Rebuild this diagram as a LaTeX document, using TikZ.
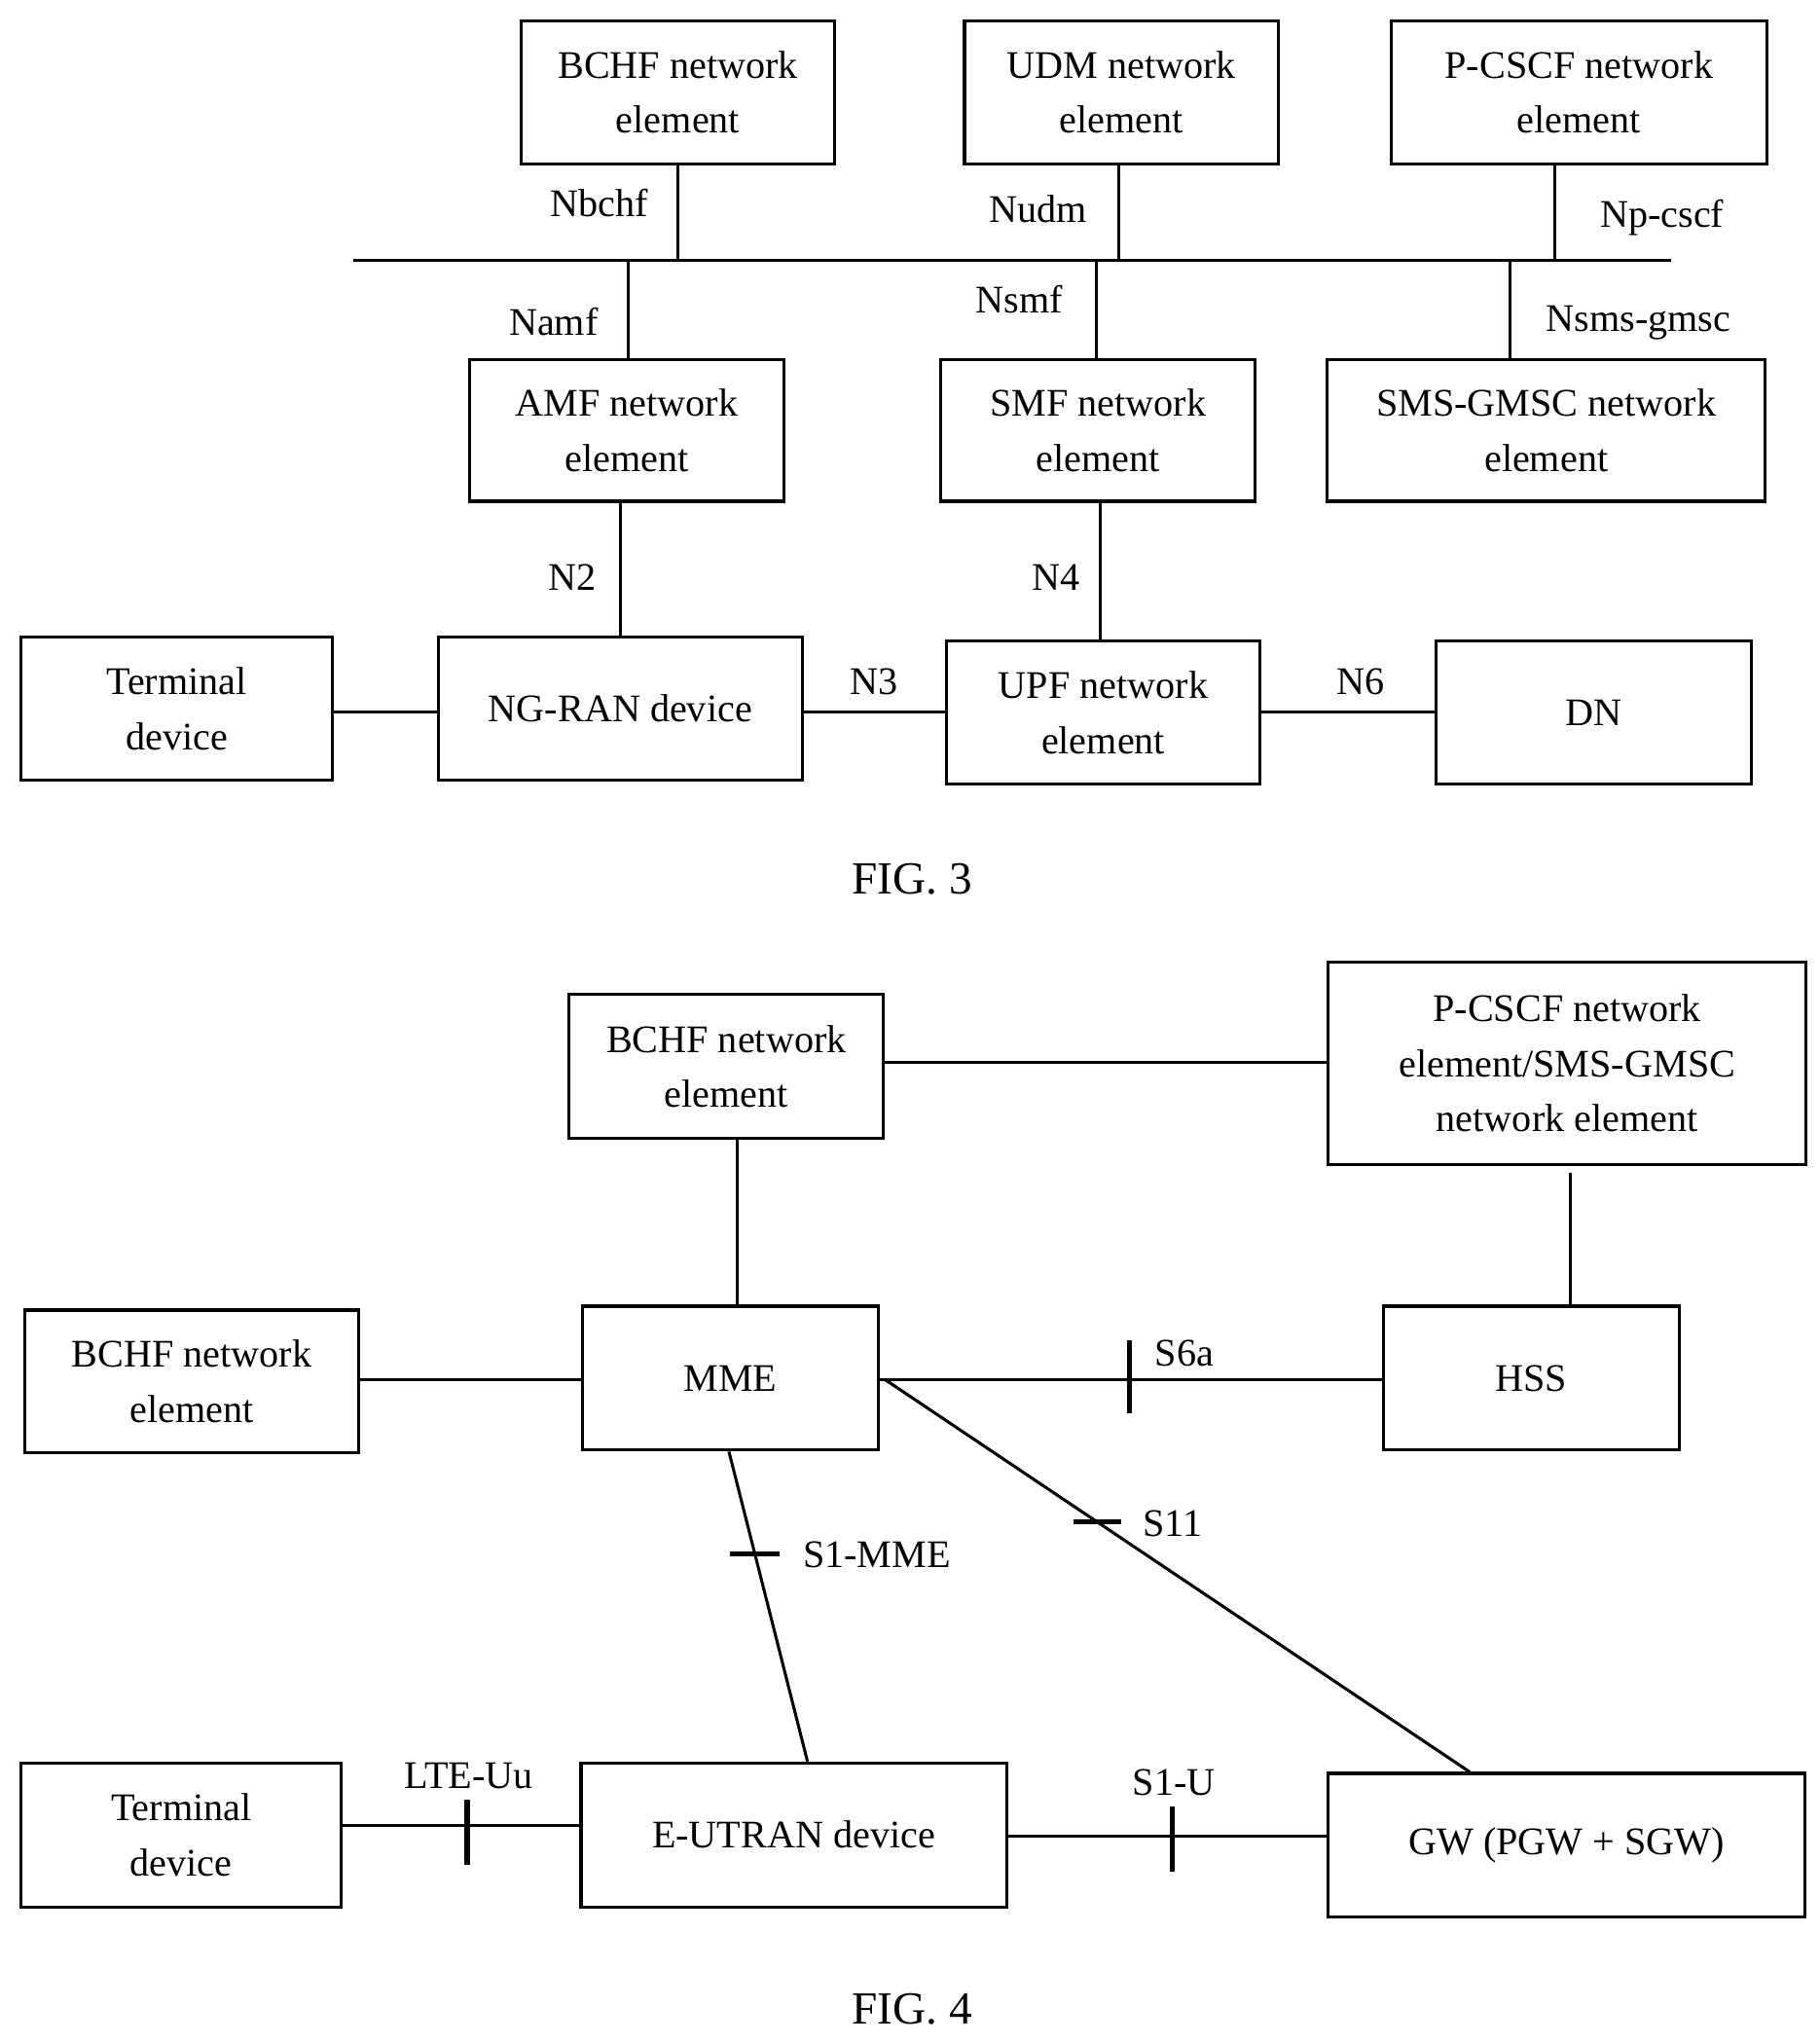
\documentclass[tikz,border=0pt]{standalone}
\usepackage{fontspec}
\setmainfont{Liberation Serif}
\begin{document}
\begin{tikzpicture}[x=0.02cm,y=-0.02cm,
  box/.style={draw,line width=1.3pt,align=center,inner sep=0pt},
  ln/.style={line width=1.3pt},
  lb/.style={inner sep=0pt},
  tk/.style={draw=none,inner sep=0pt,minimum size=0pt},
  every node/.style={font=\fontsize{17}{24}\selectfont}]
\useasboundingbox (0,0) rectangle (1390,1561);
\newcommand\bx[6]{\node[box,minimum width={(#4-#2)*0.02cm},minimum height={(#5-#3)*0.02cm}] (#1) at ({(#2+#4)/2},{(#3+#5)/2}) {#6};}
% FIG 3
\bx{bchf}{398}{16}{638}{125}{BCHF network\\element}
\bx{udm}{737}{16}{977}{125}{UDM network\\element}
\bx{pcscf}{1063}{16}{1350}{125}{P-CSCF network\\element}
\bx{amf}{359}{275}{599}{383}{AMF network\\element}
\bx{smf}{719}{275}{959}{383}{SMF network\\element}
\bx{sms}{1014}{275}{1349}{383}{SMS-GMSC network\\element}
\bx{term}{16}{487}{254}{596}{Terminal\\device}
\bx{ngran}{335}{487}{613}{596}{NG-RAN device}
\bx{upf}{723}{490}{963}{599}{UPF network\\element}
\bx{dn}{1097}{490}{1338}{599}{DN}
\coordinate (bL) at (270,199); \coordinate (bR) at (1277,199);
\draw[ln] (bL) -- (bR);
\draw[ln] (bchf.south -| 518,0) -- (bL -| 518,0);
\draw[ln] (udm.south -| 855,0) -- (bL -| 855,0);
\draw[ln] (pcscf.south -| 1188,0) -- (bL -| 1188,0);
\draw[ln] (amf.north -| 480,0) -- (bL -| 480,0);
\draw[ln] (smf.north -| 838,0) -- (bL -| 838,0);
\draw[ln] (sms.north -| 1154,0) -- (bL -| 1154,0);
\draw[ln] (amf.south -| 474,0) -- (ngran.north -| 474,0);
\draw[ln] (smf.south -| 841,0) -- (upf.north -| 841,0);
\draw[ln] (term.east |- 0,544) -- (ngran.west |- 0,544);
\draw[ln] (ngran.east |- 0,544) -- (upf.west |- 0,544);
\draw[ln] (upf.east |- 0,544) -- (dn.west |- 0,544);
\node[lb] (l1) at (458,155) {Nbchf};
\node[lb] (l2) at (793,160) {Nudm};
\node[lb] (l3) at (1270,166) {Np-cscf};
\node[lb] (l4) at (423,246) {Namf};
\node[lb] (l5) at (779,229) {Nsmf};
\node[lb] (l6) at (1252,247) {Nsms-gmsc};
\node[lb] (l7) at (437,441) {N2};
\node[lb] (l8) at (807,441) {N4};
\node[lb] (l9) at (668,521) {N3};
\node[lb] (l10) at (1040,521) {N6};
\node[lb,font=\fontsize{20}{24}\selectfont] (f3) at (697,672) {FIG. 3};
% FIG 4
\bx{bchfa}{435}{760}{675}{870}{BCHF network\\element}
\bx{pc4}{1015}{735}{1380}{890}{P-CSCF network\\element/SMS-GMSC\\network element}
\bx{mme}{445}{998}{671}{1108}{MME}
\bx{hss}{1057}{998}{1283}{1108}{HSS}
\bx{bchfb}{19}{1001}{274}{1110}{BCHF network\\element}
\bx{term4}{16}{1347}{261}{1457}{Terminal\\device}
\bx{eut}{444}{1347}{769}{1457}{E-UTRAN device}
\bx{gw}{1015}{1355}{1379}{1465}{GW (PGW + SGW)}
\draw[ln] (bchfa.east |- 0,812) -- (pc4.west |- 0,812);
\draw[ln] (bchfa.south -| 563,0) -- (mme.north -| 563,0);
\draw[ln] (pc4.south -| 1200,0) ++(0,5) -- (hss.north -| 1200,0);
\draw[ln] (bchfb.east |- 0,1054) -- (mme.west |- 0,1054);
\draw[ln] (mme.east |- 0,1054) -- (hss.west |- 0,1054);
\draw[line width=2.2pt] (863,1024) -- (863,1080);
\draw[ln] (mme.east |- 0,1054) ++(4,0) -- (gw.north -| 1123,0);
\draw[line width=2.2pt] (820,1163) -- (857,1163);
\draw[ln] (mme.south -| 557,0) -- (eut.north -| 617,0);
\draw[line width=2.2pt] (558,1187) -- (596,1187);
\draw[ln] (term4.east |- 0,1395) -- (eut.west |- 0,1395);
\draw[line width=2.2pt] (357,1375) -- (357,1425);
\draw[ln] (eut.east |- 0,1403) -- (gw.west |- 0,1403);
\draw[line width=2.2pt] (896,1380) -- (896,1430);
\node[lb] (m1) at (905,1034) {S6a};
\node[lb] (m2) at (896,1164) {S11};
\node[lb] (m3) at (670,1188) {S1-MME};
\node[lb] (m4) at (358,1357) {LTE-Uu};
\node[lb] (m5) at (897,1362) {S1-U};
\node[lb,font=\fontsize{20}{24}\selectfont] (f4) at (697,1535) {FIG. 4};
\end{tikzpicture}
\end{document}
